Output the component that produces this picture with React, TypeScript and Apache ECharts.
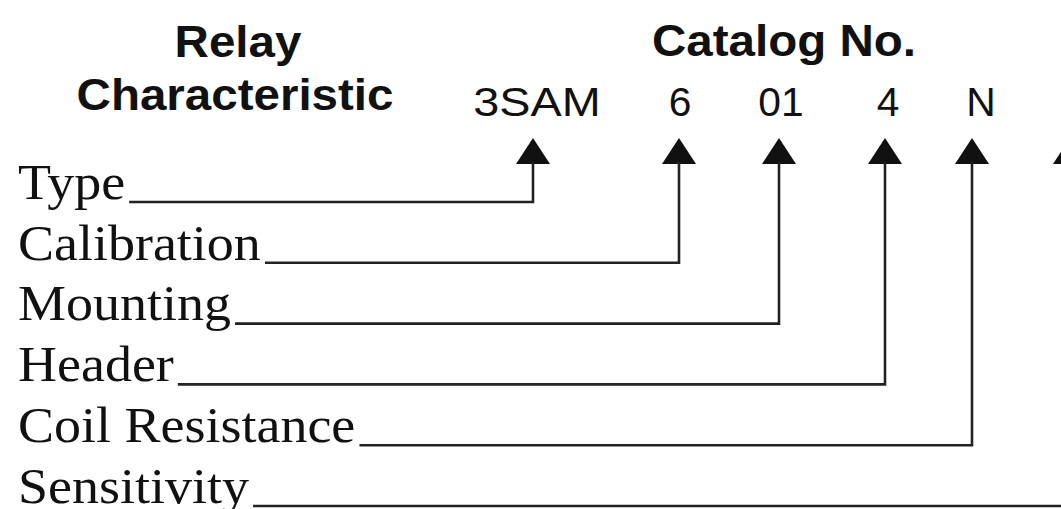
import React, { useEffect, useRef } from "react";
import * as echarts from "echarts";

// ---- content ----
const HEADER_LEFT = ["Relay", "Characteristic"];
const HEADER_RIGHT = ["Catalog No."];
const CATALOG_PARTS = ["3SAM", "6", "01", "4", "N"];
const LABELS = ["Type", "Calibration", "Mounting", "Header", "Coil Resistance", "Sensitivity"];

// ---- layout ----
const W = 1061;
const H = 509;
const ARROW_X = [533, 679, 779, 885, 972, 1070]; // one arrow per label
const PART_X = [537, 680, 781, 888, 981];
const PART_Y = 102;
const ARROW_TIP = 138;
const ARROW_BASE = 164;
const ARROW_HALF = 17;
const ROW_Y0 = 202;
const ROW_STEP = 60.8;
const LABEL_X = 18;
const LABEL_SIZE = 50;
const LABEL_SCALE = 1.08;
const SERIF = "'Liberation Serif', 'Times New Roman', serif";
const SANS = "'Liberation Sans', Arial, sans-serif";
const INK = "#111";
const LINE = "#222";

function measure(text: string, font: string): number {
  const ctx = document.createElement("canvas").getContext("2d");
  if (!ctx) return text.length * 20;
  ctx.font = font;
  return ctx.measureText(text).width;
}

function textEl(text: string, x: number, y: number, size: number, family: string, weight: string, align: string, scaleX: number) {
  return {
    type: "text",
    x,
    y,
    scaleX,
    style: {
      text,
      fontSize: size,
      fontFamily: family,
      fontWeight: weight,
      fill: INK,
      align,
      textAlign: align,
      verticalAlign: "middle",
      textVerticalAlign: "middle",
    },
  };
}

export default function App() {
  const ref = useRef<HTMLDivElement>(null);
  useEffect(() => {
    if (!ref.current) return;
    const chart = echarts.init(ref.current, null, { renderer: "svg" });
    const els: any[] = [];

    // headers
    HEADER_LEFT.forEach((t, i) => {
      els.push(textEl(t, i === 0 ? 238 : 235, i === 0 ? 42 : 95, 44, SANS, "bold", "center", 1.08));
    });
    HEADER_RIGHT.forEach((t) => {
      els.push(textEl(t, 784, 41, 44, SANS, "bold", "center", 1.08));
    });

    // catalog parts
    CATALOG_PARTS.forEach((p, i) => {
      els.push(textEl(p, PART_X[i], PART_Y, 40, SANS, "normal", "center", p.length > 2 ? 1.17 : 1.02));
    });

    // arrows
    ARROW_X.forEach((cx) => {
      els.push({
        type: "polygon",
        shape: {
          points: [
            [cx, ARROW_TIP],
            [cx - ARROW_HALF, ARROW_BASE],
            [cx + ARROW_HALF, ARROW_BASE],
          ],
        },
        style: { fill: INK },
      });
    });

    // labels + leader lines
    const font = `${LABEL_SIZE}px ${SERIF}`;
    LABELS.forEach((label, i) => {
      const rowY = ROW_Y0 + ROW_STEP * i;
      els.push(textEl(label, LABEL_X, rowY - 20, LABEL_SIZE, SERIF, "normal", "left", LABEL_SCALE));
      const startX = LABEL_X + measure(label, font) * LABEL_SCALE + 4;
      const colX = ARROW_X[i];
      els.push({
        type: "polyline",
        shape: {
          points: [
            [startX, rowY],
            [colX, rowY],
            [colX, ARROW_BASE - 2],
          ],
        },
        style: { stroke: LINE, lineWidth: 2.6, fill: "none", lineJoin: "miter" },
      });
    });

    chart.setOption({
      animation: false,
      backgroundColor: "#ffffff",
      graphic: { elements: els },
    });
    return () => chart.dispose();
  }, []);

  return (
    <div
      ref={ref}
      style={{ position: "fixed", left: 0, top: 0, width: W, height: H, background: "#fff" }}
    />
  );
}
